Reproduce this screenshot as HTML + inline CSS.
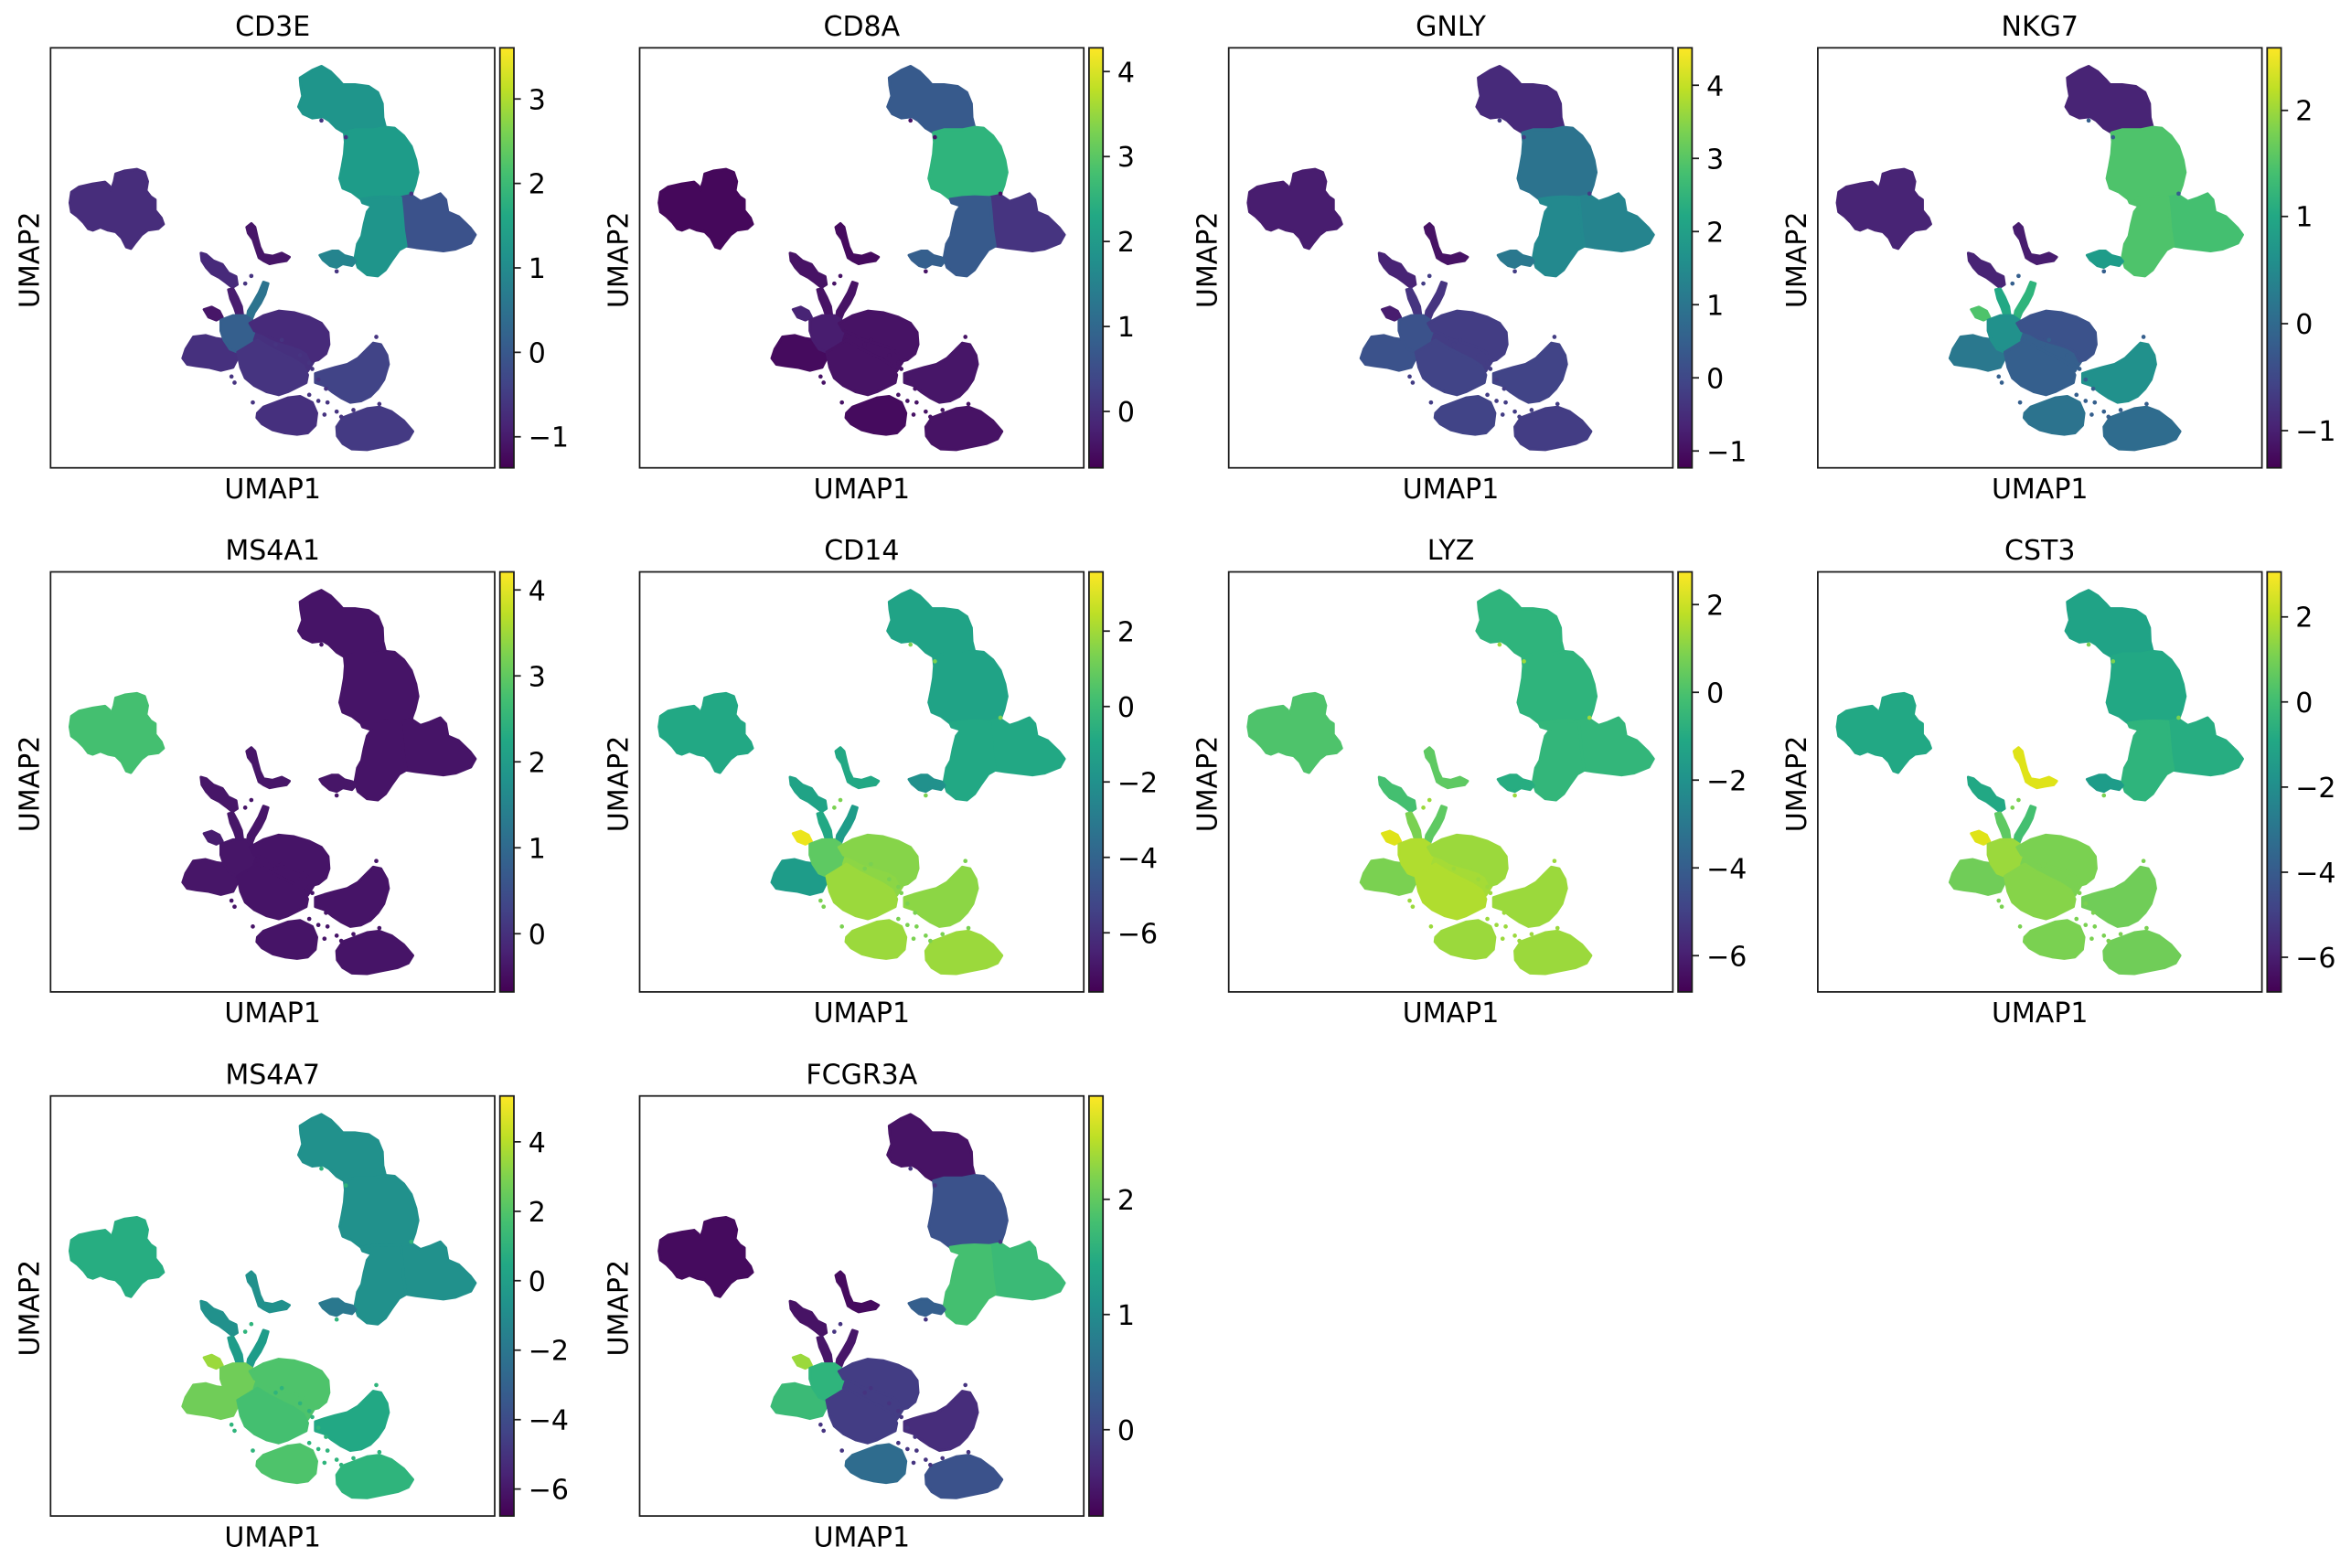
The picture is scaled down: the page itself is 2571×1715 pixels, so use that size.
<!DOCTYPE html>
<html>
<head>
<meta charset="utf-8">
<style>
html,body{margin:0;padding:0;background:#ffffff;}
svg{display:block;}
text{font-family:"DejaVu Sans","Liberation Sans",sans-serif;font-size:30px;fill:#000;}
</style>
</head>
<body>
<svg xmlns="http://www.w3.org/2000/svg" width="2571" height="1715" viewBox="0 0 2571 1715">
<defs>
<linearGradient id="v" x1="0" y1="1" x2="0" y2="0">
<stop offset="0" stop-color="#440154"/><stop offset=".1" stop-color="#482475"/><stop offset=".2" stop-color="#414487"/><stop offset=".3" stop-color="#355f8d"/><stop offset=".4" stop-color="#2a788e"/><stop offset=".5" stop-color="#21918c"/><stop offset=".6" stop-color="#22a884"/><stop offset=".7" stop-color="#44bf70"/><stop offset=".8" stop-color="#7ad151"/><stop offset=".9" stop-color="#bddf26"/><stop offset="1" stop-color="#fde725"/>
</linearGradient>
<polygon id="B" fill="currentColor" stroke="currentColor" points="65,510 70,475 95,458 140,448 180,442 195,455 200,470 210,440 215,415 245,405 285,400 310,410 320,440 315,470 330,490 345,500 345,535 365,560 372,580 355,595 320,600 300,615 280,640 265,660 250,655 235,625 215,605 190,600 165,590 140,600 125,595 110,575 90,555 70,540"/>
<polygon id="T1" fill="currentColor" stroke="currentColor" points="820,100 860,75 890,62 920,80 945,105 960,122 1000,122 1045,128 1075,148 1090,185 1092,230 1100,262 1060,270 1000,270 965,280 940,265 915,240 895,228 860,232 830,218 815,195 828,160 822,125"/>
<polygon id="T2" fill="currentColor" stroke="currentColor" points="965,280 1000,270 1060,270 1100,262 1130,265 1160,290 1185,325 1200,370 1207,410 1197,452 1185,485 1150,492 1100,490 1060,492 1020,498 990,475 960,462 950,430 958,390 965,350 968,310"/>
<polygon id="T3" fill="currentColor" stroke="currentColor" points="1150,492 1185,485 1215,505 1245,495 1280,480 1298,500 1305,540 1340,555 1378,592 1395,615 1380,642 1330,662 1290,668 1240,662 1200,657 1168,652 1160,600 1155,540"/>
<polygon id="T4" fill="currentColor" stroke="currentColor" points="1020,498 1060,492 1100,490 1150,492 1155,540 1160,600 1168,652 1145,665 1120,700 1100,730 1075,750 1040,746 1010,722 1000,690 1008,645 1022,620 1030,580 1040,540 1055,520 1025,510"/>
<polygon id="T5" fill="currentColor" stroke="currentColor" points="885,682 905,675 925,668 945,668 965,683 992,690 1002,702 990,716 960,710 940,722 918,716 895,697"/>
<polygon id="L1" fill="currentColor" stroke="currentColor" points="645,590 660,578 672,590 680,625 688,655 700,680 730,685 760,675 785,688 775,700 745,705 720,710 700,700 685,690 675,660 665,630 650,610"/>
<polygon id="L2" fill="currentColor" stroke="currentColor" points="495,675 512,680 535,700 565,712 585,740 610,752 614,778 598,788 578,772 555,755 530,742 512,722 498,700"/>
<polygon id="L3a" fill="currentColor" stroke="currentColor" points="585,795 600,792 615,820 628,850 632,880 615,885 605,855 592,825"/>
<polygon id="L3b" fill="currentColor" stroke="currentColor" points="700,770 715,775 705,810 690,840 670,870 658,900 645,895 650,865 668,835 685,805"/>
<polygon id="L4" fill="currentColor" stroke="currentColor" points="505,860 530,852 555,865 565,885 545,895 520,885"/>
<polygon id="L5" fill="currentColor" stroke="currentColor" points="435,1020 445,990 470,950 510,945 545,955 580,960 610,980 615,1020 600,1050 560,1060 520,1050 480,1045 450,1040"/>
<polygon id="L6c" fill="currentColor" stroke="currentColor" points="560,895 600,880 640,880 670,900 690,940 680,975 650,990 615,1000 590,990 570,960 560,930"/>
<polygon id="L6d" fill="currentColor" stroke="currentColor" points="680,930 760,960 845,995 865,1030 845,1062 800,1025 720,985 670,960"/>
<polygon id="L6a" fill="currentColor" stroke="currentColor" points="655,905 700,880 750,865 800,870 850,885 890,905 912,935 915,975 905,1005 880,1025 860,1030 845,1000 820,985 790,975 755,965 725,955 700,940 670,930"/>
<polygon id="L6b" fill="currentColor" stroke="currentColor" points="615,1000 640,985 680,960 720,985 760,1005 800,1025 830,1045 845,1075 840,1100 810,1115 780,1130 750,1140 710,1130 670,1110 640,1085 625,1050"/>
<polygon id="L7" fill="currentColor" stroke="currentColor" points="870,1070 900,1060 935,1050 975,1040 1010,1020 1035,995 1060,970 1085,975 1105,1010 1110,1040 1095,1090 1075,1120 1050,1145 1020,1160 985,1165 955,1150 925,1130 900,1110 870,1100"/>
<polygon id="L8" fill="currentColor" stroke="currentColor" points="680,1200 700,1180 740,1165 780,1150 820,1145 860,1165 875,1200 870,1240 845,1265 810,1270 770,1265 730,1255 695,1235 678,1215"/>
<polygon id="L9" fill="currentColor" stroke="currentColor" points="940,1245 960,1215 1000,1200 1040,1185 1080,1180 1120,1195 1160,1225 1190,1260 1175,1285 1140,1300 1090,1310 1040,1320 990,1318 960,1300 942,1275"/>
<g id="D" fill="currentColor">
<circle cx="860" cy="1055" r="7"/><circle cx="880" cy="1090" r="7"/><circle cx="905" cy="1120" r="7"/><circle cx="850" cy="1140" r="7"/><circle cx="880" cy="1160" r="7"/><circle cx="910" cy="1165" r="7"/><circle cx="940" cy="1195" r="7"/><circle cx="955" cy="1212" r="7"/><circle cx="900" cy="1205" r="7"/><circle cx="1070" cy="950" r="7"/><circle cx="605" cy="1100" r="7"/><circle cx="595" cy="1080" r="7"/><circle cx="665" cy="1165" r="7"/><circle cx="995" cy="1190" r="7"/><circle cx="1080" cy="1170" r="7"/><circle cx="820" cy="1010" r="7"/><circle cx="850" cy="1035" r="7"/><circle cx="760" cy="960" r="7"/><circle cx="740" cy="975" r="7"/><circle cx="940" cy="735" r="7"/><circle cx="890" cy="240" r="7"/><circle cx="970" cy="295" r="7"/><circle cx="1185" cy="480" r="7"/><circle cx="660" cy="750" r="7"/><circle cx="640" cy="775" r="7"/>
</g>
</defs>

<!-- Panel 1: CD3E -->
<g transform="translate(55.3,52.3)">
<text x="242.85" y="-13.3" text-anchor="middle">CD3E</text>
<g stroke-width="9" stroke-linejoin="round" transform="scale(0.33337) translate(-1.5,-1.5)">
<use href="#B" color="#472d7b"/><use href="#T1" color="#1f958b"/><use href="#T2" color="#1e9c89"/><use href="#T3" color="#3b528b"/><use href="#T4" color="#1f958b"/><use href="#T5" color="#25848e"/>
<use href="#L1" color="#471668"/><use href="#L2" color="#472a7a"/><use href="#L3a" color="#481d6f"/><use href="#L3b" color="#2c738e"/><use href="#L4" color="#471668"/><use href="#L5" color="#46307e"/><use href="#L6c" color="#355f8d"/><use href="#L6d" color="#46307e"/><use href="#L6a" color="#472a7a"/><use href="#L6b" color="#463480"/><use href="#L7" color="#414487"/><use href="#L8" color="#46307e"/><use href="#L9" color="#443a83"/><use href="#D" color="#463480"/>
</g>
<rect width="485.7" height="459.4" fill="none" stroke="#1a1a1a" stroke-width="1.75"/>
<text x="242.85" y="492.7" text-anchor="middle">UMAP1</text>
<text transform="translate(-13,232) rotate(-90)" text-anchor="middle">UMAP2</text>
<rect x="491.4" width="15.3" height="459.4" fill="url(#v)" stroke="#1a1a1a" stroke-width="1.75"/>
<path d="M506.7 425.4h7.6M506.7 333.05h7.6M506.7 240.7h7.6M506.7 148.35h7.6M506.7 56h7.6" stroke="#1a1a1a" stroke-width="1.75"/>
<text x="522.4" y="436.4">−1</text><text x="522.4" y="344.05">0</text><text x="522.4" y="251.7">1</text><text x="522.4" y="159.35">2</text><text x="522.4" y="67">3</text>
</g>

<!-- Panel 2: CD8A -->
<g transform="translate(699.5,52.3)">
<text x="242.85" y="-13.3" text-anchor="middle">CD8A</text>
<g stroke-width="9" stroke-linejoin="round" transform="scale(0.33337) translate(-1.5,-1.5)">
<use href="#B" color="#45085b"/><use href="#T1" color="#375a8c"/><use href="#T2" color="#2fb47c"/><use href="#T3" color="#463480"/><use href="#T4" color="#375a8c"/><use href="#T5" color="#355f8d"/>
<use href="#L1" color="#450b5e"/><use href="#L2" color="#471365"/><use href="#L3a" color="#471365"/><use href="#L3b" color="#471365"/><use href="#L4" color="#482475"/><use href="#L5" color="#450b5e"/><use href="#L6c" color="#481d6f"/><use href="#L6d" color="#471365"/><use href="#L6a" color="#471365"/><use href="#L6b" color="#471365"/><use href="#L7" color="#471668"/><use href="#L8" color="#450b5e"/><use href="#L9" color="#471365"/><use href="#D" color="#471365"/>
</g>
<rect width="485.7" height="459.4" fill="none" stroke="#1a1a1a" stroke-width="1.75"/>
<text x="242.85" y="492.7" text-anchor="middle">UMAP1</text>
<text transform="translate(-13,232) rotate(-90)" text-anchor="middle">UMAP2</text>
<rect x="491.4" width="15.3" height="459.4" fill="url(#v)" stroke="#1a1a1a" stroke-width="1.75"/>
<path d="M506.7 397.7h7.6M506.7 304.8h7.6M506.7 211.8h7.6M506.7 118.9h7.6M506.7 26h7.6" stroke="#1a1a1a" stroke-width="1.75"/>
<text x="522.4" y="408.7">0</text><text x="522.4" y="315.8">1</text><text x="522.4" y="222.8">2</text><text x="522.4" y="129.9">3</text><text x="522.4" y="37">4</text>
</g>

<!-- Panel 3: GNLY -->
<g transform="translate(1343.7,52.3)">
<text x="242.85" y="-13.3" text-anchor="middle">GNLY</text>
<g stroke-width="9" stroke-linejoin="round" transform="scale(0.33337) translate(-1.5,-1.5)">
<use href="#B" color="#481d6f"/><use href="#T1" color="#472a7a"/><use href="#T2" color="#2c738e"/><use href="#T3" color="#25848e"/><use href="#T4" color="#23898e"/><use href="#T5" color="#2a788e"/>
<use href="#L1" color="#471365"/><use href="#L2" color="#482475"/><use href="#L3a" color="#463480"/><use href="#L3b" color="#463480"/><use href="#L4" color="#481d6f"/><use href="#L5" color="#3b528b"/><use href="#L6c" color="#3b528b"/><use href="#L6d" color="#433d84"/><use href="#L6a" color="#433d84"/><use href="#L6b" color="#414487"/><use href="#L7" color="#414487"/><use href="#L8" color="#414487"/><use href="#L9" color="#433d84"/><use href="#D" color="#433d84"/>
</g>
<rect width="485.7" height="459.4" fill="none" stroke="#1a1a1a" stroke-width="1.75"/>
<text x="242.85" y="492.7" text-anchor="middle">UMAP1</text>
<text transform="translate(-13,232) rotate(-90)" text-anchor="middle">UMAP2</text>
<rect x="491.4" width="15.3" height="459.4" fill="url(#v)" stroke="#1a1a1a" stroke-width="1.75"/>
<path d="M506.7 441h7.6M506.7 361h7.6M506.7 281h7.6M506.7 201h7.6M506.7 121h7.6M506.7 41h7.6" stroke="#1a1a1a" stroke-width="1.75"/>
<text x="522.4" y="452">−1</text><text x="522.4" y="372">0</text><text x="522.4" y="292">1</text><text x="522.4" y="212">2</text><text x="522.4" y="132">3</text><text x="522.4" y="52">4</text>
</g>

<!-- Panel 4: NKG7 -->
<g transform="translate(1987.9,52.3)">
<text x="242.85" y="-13.3" text-anchor="middle">NKG7</text>
<g stroke-width="9" stroke-linejoin="round" transform="scale(0.33337) translate(-1.5,-1.5)">
<use href="#B" color="#482475"/><use href="#T1" color="#482475"/><use href="#T2" color="#4ec36b"/><use href="#T3" color="#44bf70"/><use href="#T4" color="#4ec36b"/><use href="#T5" color="#1e9c89"/>
<use href="#L1" color="#481d6f"/><use href="#L2" color="#482475"/><use href="#L3a" color="#22a884"/><use href="#L3b" color="#2fb47c"/><use href="#L4" color="#4ec36b"/><use href="#L5" color="#2a788e"/><use href="#L6c" color="#21918c"/><use href="#L6d" color="#355f8d"/><use href="#L6a" color="#3b528b"/><use href="#L6b" color="#355f8d"/><use href="#L7" color="#21918c"/><use href="#L8" color="#2c738e"/><use href="#L9" color="#2f6c8e"/><use href="#D" color="#355f8d"/>
</g>
<rect width="485.7" height="459.4" fill="none" stroke="#1a1a1a" stroke-width="1.75"/>
<text x="242.85" y="492.7" text-anchor="middle">UMAP1</text>
<text transform="translate(-13,232) rotate(-90)" text-anchor="middle">UMAP2</text>
<rect x="491.4" width="15.3" height="459.4" fill="url(#v)" stroke="#1a1a1a" stroke-width="1.75"/>
<path d="M506.7 418.7h7.6M506.7 301.7h7.6M506.7 184.4h7.6M506.7 68.4h7.6" stroke="#1a1a1a" stroke-width="1.75"/>
<text x="522.4" y="429.7">−1</text><text x="522.4" y="312.7">0</text><text x="522.4" y="195.4">1</text><text x="522.4" y="79.4">2</text>
</g>

<!-- Panel 5: MS4A1 -->
<g transform="translate(55.3,625.5)">
<text x="242.85" y="-13.3" text-anchor="middle">MS4A1</text>
<g stroke-width="9" stroke-linejoin="round" transform="scale(0.33337) translate(-1.5,-1.5)">
<use href="#B" color="#44bf70"/><use href="#T1" color="#461467"/><use href="#T2" color="#461467"/><use href="#T3" color="#461467"/><use href="#T4" color="#461467"/><use href="#T5" color="#471668"/>
<use href="#L1" color="#471668"/><use href="#L2" color="#471668"/><use href="#L3a" color="#471668"/><use href="#L3b" color="#471668"/><use href="#L4" color="#481d6f"/><use href="#L5" color="#471668"/><use href="#L6c" color="#471668"/><use href="#L6d" color="#461467"/><use href="#L6a" color="#461467"/><use href="#L6b" color="#461467"/><use href="#L7" color="#461467"/><use href="#L8" color="#461467"/><use href="#L9" color="#461467"/><use href="#D" color="#461467"/>
</g>
<rect width="485.7" height="459.4" fill="none" stroke="#1a1a1a" stroke-width="1.75"/>
<text x="242.85" y="492.7" text-anchor="middle">UMAP1</text>
<text transform="translate(-13,232) rotate(-90)" text-anchor="middle">UMAP2</text>
<rect x="491.4" width="15.3" height="459.4" fill="url(#v)" stroke="#1a1a1a" stroke-width="1.75"/>
<path d="M506.7 395.8h7.6M506.7 301.8h7.6M506.7 207.8h7.6M506.7 113.8h7.6M506.7 19.8h7.6" stroke="#1a1a1a" stroke-width="1.75"/>
<text x="522.4" y="406.8">0</text><text x="522.4" y="312.8">1</text><text x="522.4" y="218.8">2</text><text x="522.4" y="124.8">3</text><text x="522.4" y="30.8">4</text>
</g>

<!-- Panel 6: CD14 -->
<g transform="translate(699.5,625.5)">
<text x="242.85" y="-13.3" text-anchor="middle">CD14</text>
<g stroke-width="9" stroke-linejoin="round" transform="scale(0.33337) translate(-1.5,-1.5)">
<use href="#B" color="#22a884"/><use href="#T1" color="#20a386"/><use href="#T2" color="#20a386"/><use href="#T3" color="#22a884"/><use href="#T4" color="#22a884"/><use href="#T5" color="#21918c"/>
<use href="#L1" color="#22a884"/><use href="#L2" color="#20a386"/><use href="#L3a" color="#22a884"/><use href="#L3b" color="#1e9c89"/><use href="#L4" color="#ece51b"/><use href="#L5" color="#1e9c89"/><use href="#L6c" color="#5ec962"/><use href="#L6d" color="#8cd645"/><use href="#L6a" color="#86d449"/><use href="#L6b" color="#9bd93c"/><use href="#L7" color="#8cd645"/><use href="#L8" color="#9bd93c"/><use href="#L9" color="#9bd93c"/><use href="#D" color="#7ad151"/>
</g>
<rect width="485.7" height="459.4" fill="none" stroke="#1a1a1a" stroke-width="1.75"/>
<text x="242.85" y="492.7" text-anchor="middle">UMAP1</text>
<text transform="translate(-13,232) rotate(-90)" text-anchor="middle">UMAP2</text>
<rect x="491.4" width="15.3" height="459.4" fill="url(#v)" stroke="#1a1a1a" stroke-width="1.75"/>
<path d="M506.7 394.8h7.6M506.7 312.3h7.6M506.7 229.8h7.6M506.7 147.3h7.6M506.7 64.8h7.6" stroke="#1a1a1a" stroke-width="1.75"/>
<text x="522.4" y="405.8">−6</text><text x="522.4" y="323.3">−4</text><text x="522.4" y="240.8">−2</text><text x="522.4" y="158.3">0</text><text x="522.4" y="75.8">2</text>
</g>

<!-- Panel 7: LYZ -->
<g transform="translate(1343.7,625.5)">
<text x="242.85" y="-13.3" text-anchor="middle">LYZ</text>
<g stroke-width="9" stroke-linejoin="round" transform="scale(0.33337) translate(-1.5,-1.5)">
<use href="#B" color="#4ec36b"/><use href="#T1" color="#2fb47c"/><use href="#T2" color="#2fb47c"/><use href="#T3" color="#33b67a"/><use href="#T4" color="#33b67a"/><use href="#T5" color="#27ad81"/>
<use href="#L1" color="#5ec962"/><use href="#L2" color="#44bf70"/><use href="#L3a" color="#7ad151"/><use href="#L3b" color="#5ec962"/><use href="#L4" color="#dfe318"/><use href="#L5" color="#7ad151"/><use href="#L6c" color="#b0dd2f"/><use href="#L6d" color="#a5db36"/><use href="#L6a" color="#9bd93c"/><use href="#L6b" color="#b0dd2f"/><use href="#L7" color="#9bd93c"/><use href="#L8" color="#9bd93c"/><use href="#L9" color="#9bd93c"/><use href="#D" color="#9bd93c"/>
</g>
<rect width="485.7" height="459.4" fill="none" stroke="#1a1a1a" stroke-width="1.75"/>
<text x="242.85" y="492.7" text-anchor="middle">UMAP1</text>
<text transform="translate(-13,232) rotate(-90)" text-anchor="middle">UMAP2</text>
<rect x="491.4" width="15.3" height="459.4" fill="url(#v)" stroke="#1a1a1a" stroke-width="1.75"/>
<path d="M506.7 419.8h7.6M506.7 323.8h7.6M506.7 227.8h7.6M506.7 131.8h7.6M506.7 35.8h7.6" stroke="#1a1a1a" stroke-width="1.75"/>
<text x="522.4" y="430.8">−6</text><text x="522.4" y="334.8">−4</text><text x="522.4" y="238.8">−2</text><text x="522.4" y="142.8">0</text><text x="522.4" y="46.8">2</text>
</g>

<!-- Panel 8: CST3 -->
<g transform="translate(1987.9,625.5)">
<text x="242.85" y="-13.3" text-anchor="middle">CST3</text>
<g stroke-width="9" stroke-linejoin="round" transform="scale(0.33337) translate(-1.5,-1.5)">
<use href="#B" color="#22a884"/><use href="#T1" color="#20a386"/><use href="#T2" color="#22a884"/><use href="#T3" color="#27ad81"/><use href="#T4" color="#2fb47c"/><use href="#T5" color="#1e9c89"/>
<use href="#L1" color="#dfe318"/><use href="#L2" color="#22a884"/><use href="#L3a" color="#5ec962"/><use href="#L3b" color="#44bf70"/><use href="#L4" color="#dfe318"/><use href="#L5" color="#70cd58"/><use href="#L6c" color="#9bd93c"/><use href="#L6d" color="#7ad151"/><use href="#L6a" color="#7ad151"/><use href="#L6b" color="#86d449"/><use href="#L7" color="#70cd58"/><use href="#L8" color="#7ad151"/><use href="#L9" color="#70cd58"/><use href="#D" color="#7ad151"/>
</g>
<rect width="485.7" height="459.4" fill="none" stroke="#1a1a1a" stroke-width="1.75"/>
<text x="242.85" y="492.7" text-anchor="middle">UMAP1</text>
<text transform="translate(-13,232) rotate(-90)" text-anchor="middle">UMAP2</text>
<rect x="491.4" width="15.3" height="459.4" fill="url(#v)" stroke="#1a1a1a" stroke-width="1.75"/>
<path d="M506.7 421.5h7.6M506.7 328.5h7.6M506.7 235.4h7.6M506.7 142.3h7.6M506.7 49.2h7.6" stroke="#1a1a1a" stroke-width="1.75"/>
<text x="522.4" y="432.5">−6</text><text x="522.4" y="339.5">−4</text><text x="522.4" y="246.4">−2</text><text x="522.4" y="153.3">0</text><text x="522.4" y="60.2">2</text>
</g>

<!-- Panel 9: MS4A7 -->
<g transform="translate(55.3,1198.7)">
<text x="242.85" y="-13.3" text-anchor="middle">MS4A7</text>
<g stroke-width="9" stroke-linejoin="round" transform="scale(0.33337) translate(-1.5,-1.5)">
<use href="#B" color="#27ad81"/><use href="#T1" color="#21918c"/><use href="#T2" color="#21918c"/><use href="#T3" color="#21918c"/><use href="#T4" color="#21918c"/><use href="#T5" color="#2a788e"/>
<use href="#L1" color="#21918c"/><use href="#L2" color="#21918c"/><use href="#L3a" color="#1e9c89"/><use href="#L3b" color="#1e9c89"/><use href="#L4" color="#9bd93c"/><use href="#L5" color="#70cd58"/><use href="#L6c" color="#70cd58"/><use href="#L6d" color="#4ec36b"/><use href="#L6a" color="#4ec36b"/><use href="#L6b" color="#44bf70"/><use href="#L7" color="#22a884"/><use href="#L8" color="#4ec36b"/><use href="#L9" color="#2fb47c"/><use href="#D" color="#2fb47c"/>
</g>
<rect width="485.7" height="459.4" fill="none" stroke="#1a1a1a" stroke-width="1.75"/>
<text x="242.85" y="492.7" text-anchor="middle">UMAP1</text>
<text transform="translate(-13,232) rotate(-90)" text-anchor="middle">UMAP2</text>
<rect x="491.4" width="15.3" height="459.4" fill="url(#v)" stroke="#1a1a1a" stroke-width="1.75"/>
<path d="M506.7 429.9h7.6M506.7 354h7.6M506.7 278h7.6M506.7 202.1h7.6M506.7 126.2h7.6M506.7 50.2h7.6" stroke="#1a1a1a" stroke-width="1.75"/>
<text x="522.4" y="440.9">−6</text><text x="522.4" y="365">−4</text><text x="522.4" y="289">−2</text><text x="522.4" y="213.1">0</text><text x="522.4" y="137.2">2</text><text x="522.4" y="61.2">4</text>
</g>

<!-- Panel 10: FCGR3A -->
<g transform="translate(699.5,1198.7)">
<text x="242.85" y="-13.3" text-anchor="middle">FCGR3A</text>
<g stroke-width="9" stroke-linejoin="round" transform="scale(0.33337) translate(-1.5,-1.5)">
<use href="#B" color="#450b5e"/><use href="#T1" color="#471365"/><use href="#T2" color="#3b528b"/><use href="#T3" color="#3bba76"/><use href="#T4" color="#44bf70"/><use href="#T5" color="#355f8d"/>
<use href="#L1" color="#450b5e"/><use href="#L2" color="#471365"/><use href="#L3a" color="#471668"/><use href="#L3b" color="#471668"/><use href="#L4" color="#9bd93c"/><use href="#L5" color="#3bba76"/><use href="#L6c" color="#2fb47c"/><use href="#L6d" color="#433d84"/><use href="#L6a" color="#433d84"/><use href="#L6b" color="#433d84"/><use href="#L7" color="#472d7b"/><use href="#L8" color="#2f6c8e"/><use href="#L9" color="#3b528b"/><use href="#D" color="#463480"/>
</g>
<rect width="485.7" height="459.4" fill="none" stroke="#1a1a1a" stroke-width="1.75"/>
<text x="242.85" y="492.7" text-anchor="middle">UMAP1</text>
<text transform="translate(-13,232) rotate(-90)" text-anchor="middle">UMAP2</text>
<rect x="491.4" width="15.3" height="459.4" fill="url(#v)" stroke="#1a1a1a" stroke-width="1.75"/>
<path d="M506.7 365.1h7.6M506.7 239.1h7.6M506.7 113.1h7.6" stroke="#1a1a1a" stroke-width="1.75"/>
<text x="522.4" y="376.1">0</text><text x="522.4" y="250.1">1</text><text x="522.4" y="124.1">2</text>
</g>
</svg>
</body>
</html>
